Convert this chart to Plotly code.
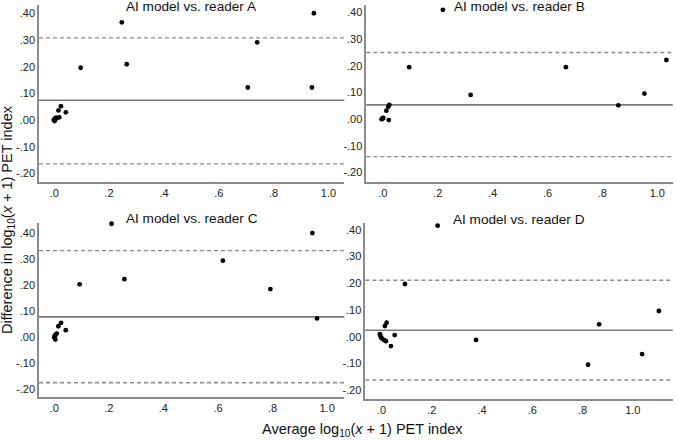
import plotly.graph_objects as go

# ---------------- data ----------------
panel_titles = ["AI model vs. reader A", "AI model vs. reader B",
                "AI model vs. reader C", "AI model vs. reader D"]

a_avg = [0.947, 0.246, 0.740, 0.096, 0.264, 0.706, 0.940, 0.024, 0.015, 0.042,
         0.018, 0.006, 0.000, 0.001, -0.002, 0.003, 0.008]
a_diff = [0.400, 0.366, 0.291, 0.196, 0.209, 0.122, 0.122, 0.052, 0.036, 0.029,
          0.010, 0.009, 0.003, -0.004, 0.000, 0.005, 0.006]

b_avg = [0.219, 0.096, 0.320, 0.667, 0.858, 0.953, 1.033, 0.024, 0.020, 0.013,
         0.002, -0.004, -0.002, 0.022, 0.000]
b_diff = [0.410, 0.195, 0.091, 0.195, 0.052, 0.096, 0.222, 0.054, 0.047, 0.032,
          0.005, 0.000, 0.002, -0.003, 0.004]

c_avg = [0.210, 0.946, 0.618, 0.257, 0.093, 0.792, 0.963, 0.025, 0.015, 0.042,
         0.009, 0.003, 0.000, 0.004, 0.002]
c_diff = [0.435, 0.399, 0.293, 0.222, 0.202, 0.184, 0.071, 0.054, 0.041, 0.026,
          0.013, 0.007, -0.002, -0.010, 0.003]

d_avg = [0.223, 0.093, 1.104, 0.866, 0.376, 1.037, 0.822, 0.020, 0.013, 0.052,
         -0.007, 0.000, 0.009, 0.017, 0.037, -0.004]
d_diff = [0.415, 0.197, 0.096, 0.046, -0.012, -0.065, -0.105, 0.052, 0.040, 0.006,
          0.009, -0.006, -0.012, -0.017, -0.035, 0.002]

mean_diff = [0.074, 0.054, 0.077, 0.024]
upper_loa = [0.308, 0.250, 0.332, 0.211]
lower_loa = [-0.164, -0.140, -0.176, -0.162]

x_tickvals = [0.0, 0.2, 0.4, 0.6, 0.8, 1.0]
x_ticktext = [".0", ".2", ".4", ".6", ".8", "1.0"]
y_tickvals = [-0.2, -0.1, 0.0, 0.1, 0.2, 0.3, 0.4]
y_ticktext = ["-.20", "-.10", ".00", ".10", ".20", ".30", ".40"]

x_ranges = [[-0.056, 1.058], [-0.060, 1.056], [-0.056, 1.063], [-0.065, 1.159]]
y_ranges = [[-0.231, 0.431], [-0.234, 0.428], [-0.232, 0.439], [-0.233, 0.425]]

# ---------------- layout geometry (paper fractions) ----------------
W, H = 676, 440
x_domains = [[39 / W, 344.3 / W], [366.3 / W, 672.7 / W],
             [39 / W, 344.3 / W], [365.3 / W, 672.7 / W]]
y_domains = [[1 - 181.7 / H, 1 - 5 / H], [1 - 181.7 / H, 1 - 5 / H],
             [1 - 397.3 / H, 1 - 222.7 / H], [1 - 399 / H, 1 - 223 / H]]

FONT = "Liberation Sans, Arial, sans-serif"
fig = go.Figure()

series = [(a_avg, a_diff), (b_avg, b_diff), (c_avg, c_diff), (d_avg, d_diff)]
layout_axes = {}
for i, (xs, ys) in enumerate(series):
    n = "" if i == 0 else str(i + 1)
    xa, ya = "x" + n, "y" + n
    fig.add_trace(go.Scatter(x=xs, y=ys, mode="markers", xaxis=xa, yaxis=ya,
                             marker=dict(color="black", size=4.8),
                             cliponaxis=False,
                             showlegend=False, hoverinfo="x+y"))
    # mean & limits of agreement lines
    for val, dash, col, w in [(mean_diff[i], "solid", "#7a7a7a", 1.6),
                              (upper_loa[i], "4px,3px", "#8a8a8a", 1.3),
                              (lower_loa[i], "4px,3px", "#8a8a8a", 1.3)]:
        fig.add_shape(type="line", xref=xa + " domain", yref=ya,
                      x0=0, x1=1, y0=val, y1=val,
                      line=dict(color=col, width=w, dash=dash), layer="below")
    layout_axes["xaxis" + n] = dict(
        domain=x_domains[i], range=x_ranges[i], anchor=ya,
        showline=True, linecolor="#8c8c8c", linewidth=1.5,
        showgrid=False, zeroline=False, ticks="",
        tickvals=x_tickvals, ticktext=x_ticktext,
        tickfont=dict(family=FONT, size=11, color="#222"))
    layout_axes["yaxis" + n] = dict(
        domain=y_domains[i], range=y_ranges[i], anchor=xa,
        showline=True, linecolor="#8c8c8c", linewidth=1.5,
        showgrid=False, zeroline=False, ticks="",
        tickvals=y_tickvals, ticktext=y_ticktext,
        tickfont=dict(family=FONT, size=11, color="#222"))
    # panel title
    fig.add_annotation(text=panel_titles[i], xref="paper", yref="paper",
                       x=sum(x_domains[i]) / 2,
                       y=y_domains[i][1] + (-1 / H if i < 2 else 4 / H),
                       yanchor="middle", xanchor="center", showarrow=False,
                       font=dict(family=FONT, size=13.6, color="#111"))

fig.add_annotation(text="Average log<sub>10</sub>(<i>x</i> + 1) PET index",
                   xref="paper", yref="paper", x=362 / W, y=1 - 430 / H,
                   xanchor="center", yanchor="middle", showarrow=False,
                   font=dict(family=FONT, size=14.5, color="#111"))
fig.add_annotation(text="Difference in log<sub>10</sub>(<i>x</i> + 1) PET index",
                   xref="paper", yref="paper", x=8 / W, y=1 - 220 / H,
                   xanchor="center", yanchor="middle", textangle=-90,
                   showarrow=False,
                   font=dict(family=FONT, size=14.5, color="#111"))

fig.update_layout(width=W, height=H, margin=dict(l=0, r=0, t=0, b=0),
                  paper_bgcolor="white", plot_bgcolor="white",
                  font=dict(family=FONT), **layout_axes)

fig.write_html("out.html",
               config={"displayModeBar": False},
               post_script="document.body.style.margin='0px';"
                           "document.body.style.overflow='hidden';")
